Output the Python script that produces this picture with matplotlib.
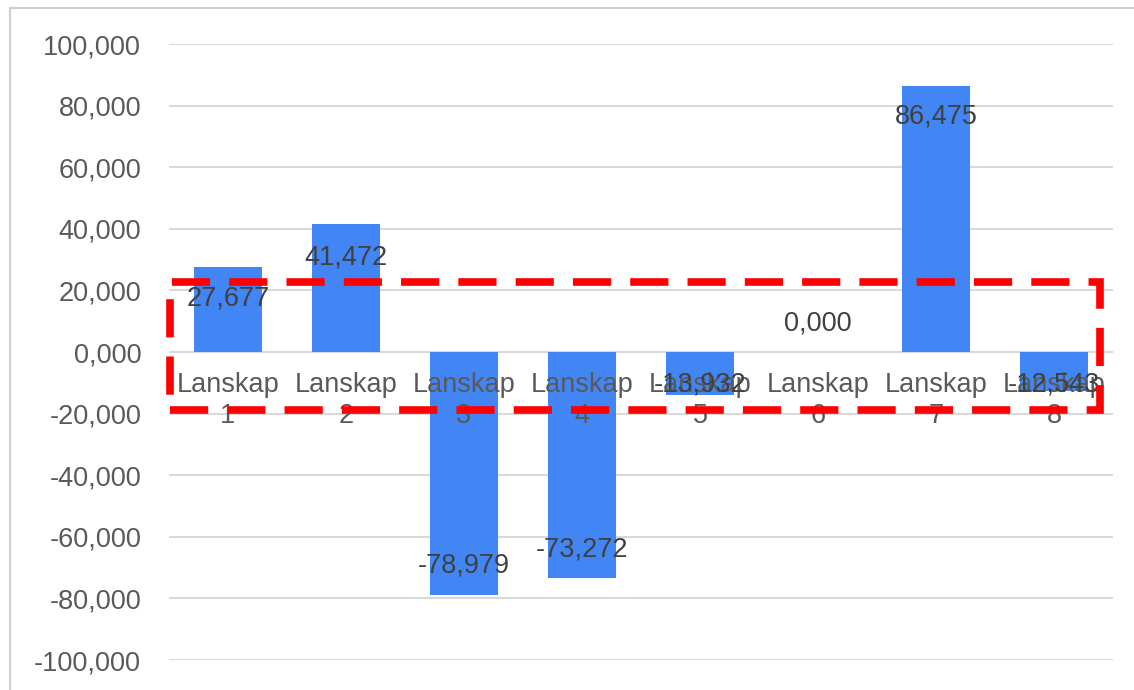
import matplotlib
matplotlib.use("Agg")
import matplotlib.pyplot as plt
from matplotlib.patches import Rectangle

plt.rcParams['font.family'] = ['Liberation Sans', 'DejaVu Sans']

categories = ["Lanskap\n1", "Lanskap\n2", "Lanskap\n3", "Lanskap\n4",
              "Lanskap\n5", "Lanskap\n6", "Lanskap\n7", "Lanskap\n8"]
values = [27677, 41472, -78979, -73272, -13932, 0, 86475, -12543]
label_offsets_px = [-32, -33, 30, 28, 10, 28, -31, 6]
y_ticks = [-100000, -80000, -60000, -40000, -20000, 0, 20000, 40000, 60000, 80000, 100000]

W, H = 1134, 690
fig = plt.figure(figsize=(W / 100, H / 100), dpi=100)
ax = fig.add_axes([169 / W, (H - 660) / H, 944 / W, 616 / H])

x = list(range(len(values)))
ax.bar(x, values, width=0.57, color='#4285F4', zorder=2)

ax.set_xlim(-0.5, len(values) - 0.5)
ax.set_ylim(-100000, 100000)
ax.set_yticks(y_ticks)
ax.set_yticklabels(["0,000" if v == 0 else f"{v:,}" for v in y_ticks])
ax.tick_params(axis='y', length=0, pad=20, labelsize=19.5, labelcolor='#595959')
ax.set_xticks([])
ax.grid(axis='y', color='#d9d9d9', linewidth=1.5, zorder=0)
for s in ax.spines.values():
    s.set_visible(False)

# category labels at the zero line
for xi, c in zip(x, categories):
    ax.annotate(c, (xi, 0), xytext=(0, -20), textcoords='offset pixels',
                ha='center', va='top', fontsize=19.5, color='#595959',
                linespacing=1.25, zorder=3)

# data labels
for xi, v, off in zip(x, values, label_offsets_px):
    txt = f"{v:,}" if v != 0 else "0,000"
    ax.annotate(txt, (xi, v), xytext=(0, off), textcoords='offset pixels',
                ha='center', va='center', fontsize=19.5, color='#404040', zorder=4)

# outer frame of the chart area
fig.add_artist(Rectangle((10 / W, -0.05), 1.2, (H - 8) / H + 0.05,
                         transform=fig.transFigure, fill=False,
                         edgecolor='#d0d0d0', linewidth=1.5))

# red dashed highlight box
fig.add_artist(Rectangle((170 / W, (H - 410) / H), (1100 - 170) / W, (410 - 282) / H,
                         transform=fig.transFigure, fill=False,
                         edgecolor='#ff0000', linewidth=5.5,
                         linestyle=(0, (5, 2.5)), zorder=10))

fig.savefig("out.png", dpi=100)
